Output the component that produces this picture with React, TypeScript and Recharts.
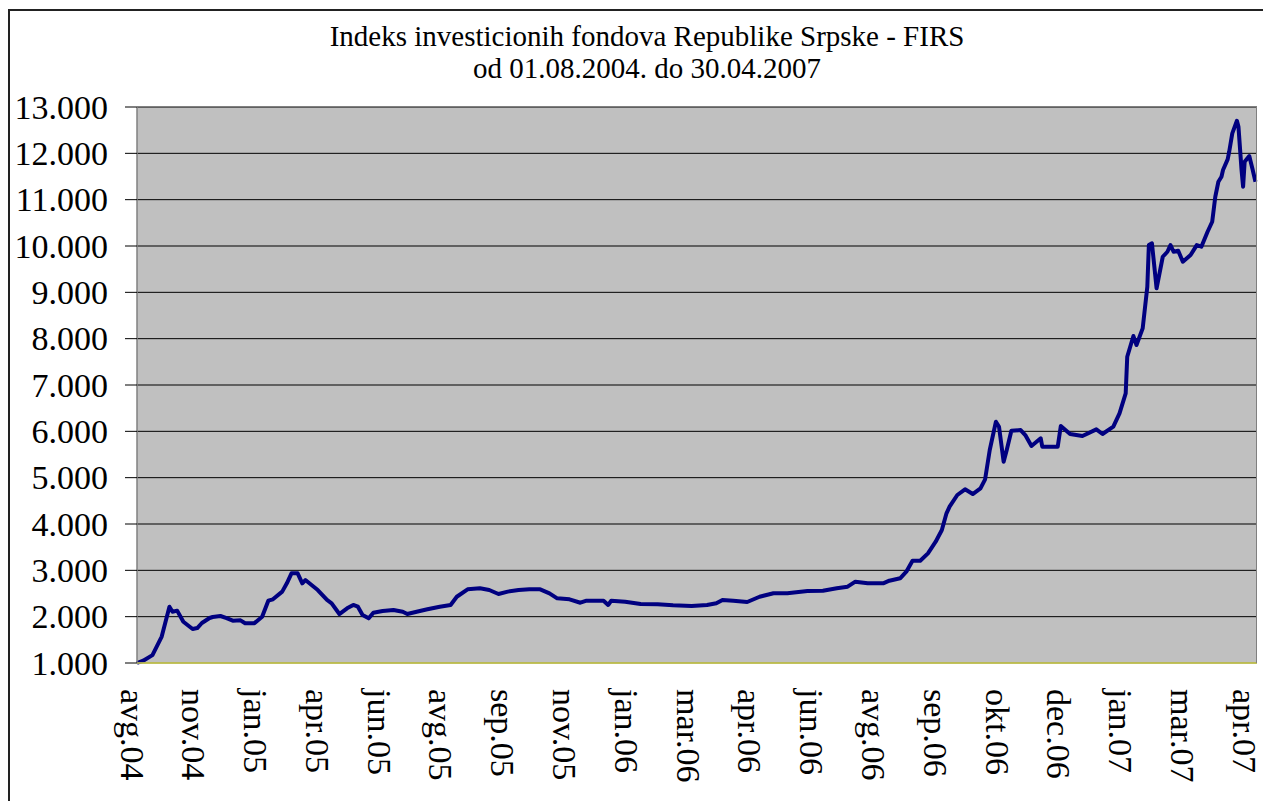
import React from 'react';
import { LineChart, Line, XAxis, YAxis, CartesianGrid } from 'recharts';

const titleLines = ['Indeks investicionih fondova Republike Srpske - FIRS', 'od 01.08.2004. do 30.04.2007'];

const xLabels = ['avg.04', 'nov.04', 'jan.05', 'apr.05', 'jun.05', 'avg.05', 'sep.05', 'nov.05', 'jan.06', 'mar.06', 'apr.06', 'jun.06', 'avg.06', 'sep.06', 'okt.06', 'dec.06', 'jan.07', 'mar.07', 'apr.07'];
const labelStep = 40;
const lastDay = 725;

const yTicks = [1000, 2000, 3000, 4000, 5000, 6000, 7000, 8000, 9000, 10000, 11000, 12000, 13000];

const dayIndex = [0, 4, 10, 16, 21, 23, 26, 30, 36, 39, 42, 47, 49, 54, 58, 62, 67, 70, 76, 81, 85, 88, 94, 97, 100, 104, 107, 109, 113, 117, 123, 126, 131, 136, 140, 143, 146, 150, 153, 159, 166, 172, 175, 181, 188, 196, 203, 207, 214, 222, 228, 234, 240, 247, 254, 261, 267, 272, 280, 287, 291, 302, 305, 307, 316, 326, 337, 347, 359, 369, 375, 379, 386, 395, 403, 412, 421, 434, 444, 453, 460, 465, 473, 483, 487, 494, 498, 502, 507, 512, 517, 521, 524, 526, 531, 536, 541, 546, 549, 552, 556, 558, 561, 563, 566, 572, 575, 579, 585, 586, 596, 598, 604, 612, 621, 625, 632, 636, 640, 641, 645, 647, 651, 654, 655, 657, 660, 664, 667, 669, 671, 674, 677, 682, 686, 689, 693, 696, 698, 700, 702, 703, 706, 707, 709, 712, 713, 715, 716, 717, 720, 722, 724];

const firsValues = [1000, 1050, 1170, 1570, 2215, 2107, 2130, 1890, 1734, 1755, 1863, 1971, 1993, 2014, 1970, 1913, 1920, 1857, 1860, 2000, 2345, 2375, 2540, 2720, 2935, 2935, 2720, 2790, 2683, 2575, 2360, 2288, 2057, 2180, 2252, 2215, 2036, 1964, 2086, 2122, 2144, 2107, 2057, 2107, 2159, 2215, 2252, 2430, 2590, 2612, 2575, 2489, 2540, 2575, 2590, 2590, 2504, 2396, 2375, 2301, 2345, 2345, 2252, 2345, 2323, 2273, 2266, 2245, 2230, 2252, 2288, 2360, 2345, 2316, 2430, 2504, 2504, 2554, 2560, 2612, 2647, 2755, 2720, 2720, 2776, 2828, 2970, 3208, 3208, 3367, 3618, 3870, 4231, 4373, 4626, 4749, 4647, 4770, 4965, 5597, 6208, 6100, 5344, 5597, 6013, 6028, 5920, 5683, 5849, 5668, 5668, 6114, 5942, 5899, 6043, 5942, 6100, 6389, 6820, 7610, 8057, 7862, 8222, 9120, 10020, 10057, 9086, 9768, 9876, 10020, 9876, 9898, 9660, 9805, 10020, 9984, 10308, 10524, 11063, 11387, 11495, 11640, 11870, 12034, 12431, 12703, 12574, 11640, 11279, 11818, 11941, 11675, 11387];

const data = dayIndex.map((t, i) => ({ t, v: firsValues[i] }));
const xTicks = xLabels.map((_, i) => i * labelStep);

const FONT = '"Liberation Serif", "Times New Roman", serif';

const fmtY = (v: number) => `${Math.floor(v / 1000)}.${String(v % 1000).padStart(3, '0')}`;

const XTick = (props: any) => {
  const { x, payload } = props;
  const y = 689;
  const idx = Math.round(payload.value / labelStep);
  return (
    <text
      x={x}
      y={y}
      dy={5}
      transform={`rotate(90, ${x}, ${y})`}
      textAnchor="start"
      dominantBaseline="central"
      fontSize={34}
      fontFamily={FONT}
      fill="#000"
    >
      {xLabels[idx]}
    </text>
  );
};

const YTick = (props: any) => {
  const { y, payload } = props;
  return (
    <text x={108} y={y} textAnchor="end" dominantBaseline="central" fontSize={34} fontFamily={FONT} fill="#000">
      {fmtY(payload.value)}
    </text>
  );
};

export default function App() {
  return (
    <div style={{ position: 'absolute', left: 0, top: 0, width: 1263, height: 801, overflow: 'hidden', background: '#fff' }}>
      <div style={{ position: 'absolute', left: 8, top: 9, width: 1400, height: 1000, border: '2px solid #222' }} />
      {titleLines.map((s, i) => (
        <div
          key={i}
          style={{
            position: 'absolute',
            left: 247,
            width: 800,
            top: 20 + i * 32,
            textAlign: 'center',
            fontFamily: FONT,
            fontSize: 29,
            lineHeight: '32px',
            color: '#000',
            whiteSpace: 'nowrap',
          }}
        >
          {s}
        </div>
      ))}
      <div style={{ position: 'absolute', left: 0, top: 0 }}>
        <LineChart width={1263} height={801} data={data} margin={{ top: 107, right: 6, bottom: 0, left: 0 }}>
          <CartesianGrid vertical={false} stroke="#000" fill="#c0c0c0" fillOpacity={1} />
          <XAxis
            type="number"
            dataKey="t"
            domain={[0, lastDay]}
            ticks={xTicks}
            interval={0}
            height={138}
            tickLine={false}
            axisLine={{ stroke: '#d8d850', strokeWidth: 1.5 }}
            tick={<XTick />}
          />
          <YAxis
            type="number"
            domain={[1000, 13000]}
            ticks={yTicks}
            interval={0}
            width={137}
            tickSize={12}
            tickLine={{ stroke: '#000' }}
            axisLine={{ stroke: '#808080', strokeWidth: 1.5 }}
            tick={<YTick />}
          />
          <Line
            type="linear"
            dataKey="v"
            stroke="#000080"
            strokeWidth={4}
            dot={false}
            isAnimationActive={false}
            strokeLinejoin="round"
          />
        </LineChart>
      </div>
      <div style={{ position: 'absolute', left: 136, top: 106, width: 1120, height: 556, borderTop: '1.5px solid #808080', borderRight: '1.5px solid #808080', pointerEvents: 'none' }} />
    </div>
  );
}
